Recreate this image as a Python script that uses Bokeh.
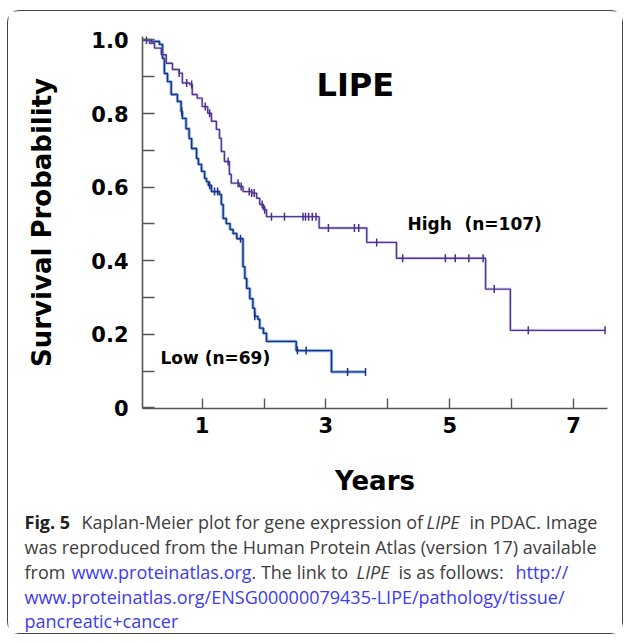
import numpy as np
from bokeh.plotting import figure
from bokeh.layouts import column
from bokeh.models import Range1d, FixedTicker, Label
from bokeh.embed import file_html
from bokeh.resources import INLINE

# ---------------- data ----------------
# High expression group: event times (years) and survival after each event
high_t = [0.15, 0.23, 0.34, 0.42, 0.52, 0.63, 0.68, 0.80, 0.84, 0.92, 1.00, 1.09,
          1.15, 1.23, 1.28, 1.31, 1.36, 1.44, 1.47, 1.60, 1.66, 1.80, 1.88, 1.93,
          1.99, 2.04, 2.89, 3.66, 4.14, 5.58, 5.98]
high_s = [0.991, 0.978, 0.960, 0.937, 0.920, 0.910, 0.883, 0.879, 0.852, 0.842,
          0.819, 0.801, 0.779, 0.757, 0.733, 0.697, 0.670, 0.635, 0.611, 0.602,
          0.588, 0.584, 0.570, 0.553, 0.539, 0.520, 0.489, 0.450, 0.407, 0.323,
          0.211]
high_end = 7.51
high_censor = [0.10, 0.63, 0.75, 0.83, 1.05, 1.12, 1.42, 1.58, 1.63, 1.76, 1.80,
               1.84, 1.97, 2.01, 2.12, 2.33, 2.63, 2.67, 2.72, 2.78, 2.84, 3.04,
               3.46, 3.53, 3.82, 4.24, 4.93, 5.09, 5.31, 5.54, 5.72, 6.27, 7.51]

# Low expression group
low_t = [0.18, 0.31, 0.36, 0.39, 0.44, 0.50, 0.60, 0.66, 0.68, 0.74, 0.79, 0.83,
         0.91, 0.94, 0.99, 1.04, 1.07, 1.10, 1.15, 1.28, 1.31, 1.34, 1.39, 1.45,
         1.50, 1.56, 1.66, 1.69, 1.72, 1.77, 1.82, 1.85, 1.90, 1.93, 1.99, 2.04,
         2.52, 3.09]
low_s = [0.996, 0.988, 0.950, 0.909, 0.887, 0.852, 0.833, 0.806, 0.787, 0.759,
         0.732, 0.705, 0.678, 0.662, 0.643, 0.624, 0.615, 0.605, 0.588, 0.580,
         0.553, 0.515, 0.501, 0.485, 0.474, 0.460, 0.384, 0.352, 0.325, 0.297,
         0.271, 0.249, 0.241, 0.217, 0.203, 0.181, 0.156, 0.098]
low_end = 3.64
low_censor = [0.67, 1.12, 1.20, 1.25, 1.62, 1.85, 2.54, 2.68, 3.35, 3.64]

x_tick_values = [1, 3, 5, 7]
x_minor_ticks = [2, 4, 6]
y_tick_values = [0, 0.2, 0.4, 0.6, 0.8, 1.0]
y_tick_labels = ["0", "0.2", "0.4", "0.6", "0.8", "1.0"]
y_minor_ticks = [0.1, 0.3, 0.5, 0.7, 0.9]

# ---------------- layout ----------------
X0, X1 = 0.036, 7.55
Y0, Y1 = -0.0014, 1.0095
CW = 614          # content width inside the rounded frame
MAIN_H = 488
CAP_H = 134
FL, FT = 134, 25  # frame left / top inside main figure
FW, FH = 465, 372


def dx(fx):
    """main-figure pixel x -> data x"""
    return X0 + (fx - FL) * (X1 - X0) / FW


def dy(fy):
    """main-figure pixel y -> data y"""
    return Y1 - (fy - FT) * (Y1 - Y0) / FH


p = figure(width=CW, height=MAIN_H, output_backend="svg", toolbar_location=None,
           x_range=Range1d(X0, X1), y_range=Range1d(Y0, Y1),
           min_border_left=FL, min_border_right=CW - FL - FW, min_border_top=FT,
           min_border_bottom=MAIN_H - FT - FH)
p.frame_align = False
p.background_fill_color = "white"
p.border_fill_color = "white"
p.outline_line_color = None
p.grid.visible = False

AX = "#555555"
for ax in (p.xaxis[0], p.yaxis[0]):
    ax.axis_line_color = AX
    ax.axis_line_width = 1.6
    ax.major_tick_line_color = AX
    ax.minor_tick_line_color = AX
    ax.major_tick_line_width = 1.4
    ax.minor_tick_line_width = 1.4
    ax.major_tick_out = 0
    ax.minor_tick_out = 0
    ax.major_label_text_font = "DejaVu Sans"
    ax.major_label_text_font_style = "bold"
    ax.major_label_text_font_size = "21px"
    ax.major_label_text_color = "black"
    ax.axis_label_text_font = "DejaVu Sans"
    ax.axis_label_text_font_style = "bold"
    ax.axis_label_text_font_size = "26px"
    ax.axis_label_text_color = "black"

p.xaxis.ticker = FixedTicker(ticks=x_tick_values, minor_ticks=x_minor_ticks)
p.xaxis.major_tick_in = 10
p.xaxis.minor_tick_in = 10
p.xaxis.major_label_standoff = 8
p.xaxis.axis_label = "Years"
p.xaxis.axis_label_standoff = 30

p.yaxis.ticker = FixedTicker(ticks=y_tick_values, minor_ticks=y_minor_ticks)
p.yaxis.major_label_overrides = dict(zip(y_tick_values, y_tick_labels))
p.yaxis.major_tick_in = 12
p.yaxis.minor_tick_in = 12
p.yaxis.major_label_standoff = 14
p.yaxis.axis_label = "Survival Probability"
p.yaxis.axis_label_standoff = 31


def step_xy(ts, ss, end):
    xs = [0.0] + list(ts) + [end]
    ys = [1.0] + list(ss) + [ss[-1]]
    return xs, ys


def censor_y(ts, ss, cens):
    t = np.array([0.0] + list(ts))
    s = np.array([1.0] + list(ss))
    idx = np.searchsorted(t, np.array(cens), side="right") - 1
    return s[idx]


hx, hy = step_xy(high_t, high_s, high_end)
lx, ly = step_xy(low_t, low_s, low_end)

p.step(lx, ly, mode="after", line_color="#3d8fd1", line_width=3.2, line_alpha=0.6)
p.step(lx, ly, mode="after", line_color="#1f2f88", line_width=1.4)
p.step(hx, hy, mode="after", line_color="#9a83cf", line_width=3.0, line_alpha=0.35)
p.step(hx, hy, mode="after", line_color="#4f3694", line_width=1.4)

p.scatter(high_censor, censor_y(high_t, high_s, high_censor), marker="dash",
          angle=np.pi / 2, size=8, line_color="#4a2f8a", line_width=1.5)
p.scatter(low_censor, censor_y(low_t, low_s, low_censor), marker="dash",
          angle=np.pi / 2, size=8, line_color="#1f2f88", line_width=1.5)

BOLD = dict(text_font="DejaVu Sans", text_font_style="bold", text_color="black",
            text_align="left", text_baseline="alphabetic")
# positions given in main-figure pixels
p.add_layout(Label(x=dx(308), y=dy(73), text="LIPE", text_font_size="32px", **BOLD))
p.add_layout(Label(x=dx(399), y=dy(212), text="High", text_font_size="17px", **BOLD))
p.add_layout(Label(x=dx(456), y=dy(212), text="(n=107)", text_font_size="17px", **BOLD))
p.add_layout(Label(x=dx(152), y=dy(346), text="Low (n=69)", text_font_size="17px", **BOLD))

# ---------------- caption (separate panel, pixel coordinates) ----------------
pc = figure(width=CW, height=CAP_H, output_backend="svg", toolbar_location=None,
            x_range=Range1d(0, CW), y_range=Range1d(CAP_H, 0),
            x_axis_type=None, y_axis_type=None, min_border=0)
pc.frame_align = False
pc.grid.visible = False
pc.outline_line_color = None
pc.background_fill_color = "white"
pc.border_fill_color = "white"

GRAY = "#3d3d3d"
BLUE = "#3b3bf0"
CAP = "18px"
CAP_TOP = 10 + MAIN_H  # page y of caption panel top


def cap(px, py, text, color=GRAY, style="normal"):
    pc.add_layout(Label(x=px - 7, y=py - CAP_TOP, text=text, text_font="Open Sans",
                        text_font_size=CAP, text_font_style=style, text_color=color,
                        text_align="left", text_baseline="alphabetic"))


L1, L2, L3, L4, L5 = 520, 545, 570, 595, 619
cap(23, L1, "Fig. 5", color="#222222", style="bold")
cap(80, L1, "Kaplan-Meier plot for gene expression of")
cap(425, L1, "LIPE", style="italic")
cap(468, L1, "in PDAC. Image")
cap(23, L2, "was reproduced from the Human Protein Atlas (version 17) available")
cap(23, L3, "from")
cap(70, L3, "www.proteinatlas.org", color=BLUE)
cap(250, L3, ". The link to")
cap(355, L3, "LIPE", style="italic")
cap(397, L3, "is as follows:")
cap(514, L3, "http://", color=BLUE)
cap(23, L4, "www.proteinatlas.org/ENSG00000079435-LIPE/pathology/tissue/", color=BLUE)
cap(23, L5, "pancreatic+cancer", color=BLUE)

layout = column(p, pc, spacing=0, margin=(10, 0, 0, 7),
                styles={"border": "1.3px solid #444444", "border-radius": "12px",
                        "background-color": "white"})

open("out.html", "w").write(file_html(layout, INLINE))
